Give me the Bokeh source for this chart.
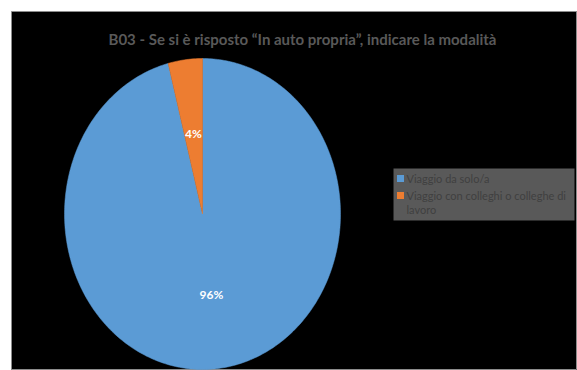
import numpy as np
from bokeh.plotting import figure
from bokeh.models import Range1d, Label
from bokeh.core.properties import value
from bokeh.embed import file_html
from bokeh.resources import INLINE

title_text = "B03 - Se si è risposto “In auto propria”, indicare la modalità"
categories = ["Viaggio da solo/a", "Viaggio con colleghi o colleghe di\nlavoro"]
shares = [96, 4]
colors = ["#5B9BD5", "#ED7D31"]

W, H = 577, 370
ML, MT = 11, 11
FW, FH = W - ML, H - MT

p = figure(width=W, height=H, output_backend="svg", toolbar_location=None,
           x_range=Range1d(0, FW), y_range=Range1d(0, FH),
           min_border_left=ML, min_border_top=MT, min_border_right=0, min_border_bottom=0)
p.axis.visible = False
p.grid.visible = False
p.background_fill_color = "black"
p.border_fill_color = "white"
p.outline_line_color = "#8c8c8c"
p.outline_line_width = 1

# pie geometry (screen-like units, y up)
cx, cy = 191, 156.5
rx, ry = 138, 155.5

total = float(sum(shares))
start = 0.0
xs_all, ys_all, mids = [], [], []
for s in shares:
    frac = s / total
    a0, a1 = start, start + frac
    t = np.linspace(a0, a1, max(int(frac * 400), 8))
    ang = np.pi / 2 - 2 * np.pi * t
    xs_all.append([cx] + list(cx + rx * np.cos(ang)) + [cx])
    ys_all.append([cy] + list(cy + ry * np.sin(ang)) + [cy])
    mids.append((a0 + a1) / 2)
    start = a1

for xs, ys, c in zip(xs_all, ys_all, colors):
    p.patch(xs, ys, fill_color=c, line_color=c, line_width=0.5)

for s, m in zip(shares, mids):
    ang = np.pi / 2 - 2 * np.pi * m
    lx = cx + 0.52 * rx * np.cos(ang)
    ly = cy + 0.52 * ry * np.sin(ang)
    p.add_layout(Label(x=lx, y=ly, text=f"{s}%", text_color="white",
                       text_font="Lato", text_font_style="bold", text_font_size="12px",
                       text_align="center", text_baseline="middle"))

p.add_layout(Label(x=291, y=FH - 27, text=title_text, text_color="#595959",
                   text_font="Lato", text_font_style="bold", text_font_size="15px",
                   text_align="center", text_baseline="middle"))

# legend (drawn manually so the wrapped label fits like the reference)
lx0, lx1, ly0, ly1 = 382, 563, 150, 202
p.quad(left=[lx0], right=[lx1], bottom=[ly0], top=[ly1],
       fill_color="#595959", line_color=None)
sq_x = [389, 389]
sq_y = [192, 175]
p.scatter(sq_x, sq_y, marker="square", size=7, fill_color=colors, line_color=None)
text_lines = categories[1].split("\n")
p.text(x=[395, 395, 395], y=[192, 175, 161],
       text=[categories[0], text_lines[0], text_lines[1]],
       text_color="#404040", text_font=value("Lato"), text_font_size="11px",
       text_align="left", text_baseline="middle")

open("out.html", "w").write(file_html(p, INLINE))
